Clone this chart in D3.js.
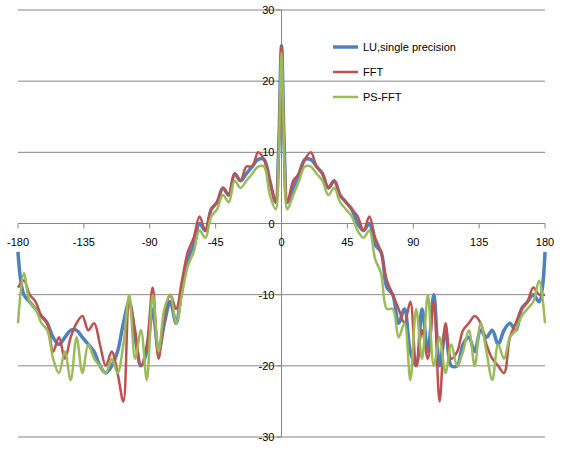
<!DOCTYPE html>
<html>
<head>
<meta charset="UTF-8" />
<script src="https://cdn.jsdelivr.net/npm/d3@7"></script>
<style>
  body { margin: 0; background: #fff; }
  text { font-family: "Liberation Sans", "DejaVu Sans", sans-serif; font-size: 11px; fill: #000; }
</style>
</head>
<body>
<script>
// angles in degrees
var angles = [-180,-176,-172,-168,-164,-160,-156,-152,-148,-144,-140,-136,-132,-128,-124,-120,-116,-112,-108,-104,-100,-96,-92,-88,-84,-80,-76,-72,-68,-64,-60,-56,-52,-48,-44,-40,-36,-32,-28,-24,-20,-16,-12,-8,-4,-2,0,2,4,8,12,16,20,24,28,32,36,40,44,48,52,56,60,64,68,72,76,80,84,88,92,96,100,104,108,112,116,120,124,128,132,136,140,144,148,152,156,160,164,168,172,176,180];

var luSingle = [-4,-10,-11,-12,-13,-14,-16,-17,-16,-15,-15,-16,-17,-18,-20,-21,-20,-18,-14,-11,-16,-20,-18,-12,-18,-14,-11,-14,-9,-5,-3,0,-1,2,3,5,4,7,6,7,8,9,9,6,3,10,25,10,3,5,7,9,9,8,7,5,6,4,3,2,0,-1,0,-3,-4,-9,-10,-14,-12,-18,-20,-12,-18,-10,-20,-15,-20,-20,-17,-16,-18,-15,-16,-15,-17,-15,-14,-15,-12,-11,-10,-11,-4];
var fft = [-9,-8,-10,-11,-13,-14,-18,-16,-19,-16,-14,-13,-15,-14,-17,-20,-18,-21,-25,-11,-15,-20,-17,-9,-19,-13,-10,-12,-8,-4,-2,1,-1,2,3,5,4,7,6,8,8,10,9,6,3,10,25,10,3,6,7,9,10,8,7,5,6,4,3,2,1,-1,1,-2,-4,-8,-10,-12,-14,-11,-20,-15,-19,-11,-25,-14,-19,-18,-15,-14,-13,-14,-17,-19,-20,-21,-16,-14,-12,-11,-9,-10,-10];
var psFft = [-14,-7,-11,-12,-14,-15,-19,-21,-18,-22,-16,-21,-17,-19,-20,-21,-19,-21,-17,-10,-19,-15,-22,-10,-18,-12,-10,-14,-10,-6,-4,-1,-2,1,2,4,3,6,5,6,7,8,8,4,2,9,24,9,2,4,6,8,8,7,6,4,5,3,2,1,-1,-2,-1,-5,-7,-12,-12,-16,-14,-22,-12,-19,-10,-20,-16,-21,-17,-20,-18,-15,-20,-14,-18,-22,-17,-19,-16,-15,-13,-12,-11,-8,-14];

var seriesNames = ["LU,single precision", "FFT", "PS-FFT"];
var seriesData = [luSingle, fft, psFft];
var seriesColors = ["#4f81bd", "#c0504d", "#9bbb59"];
var seriesWidths = [3.5, 2.5, 2.5];

var xTicks = [-180, -135, -90, -45, 0, 45, 90, 135, 180];
var yTicks = [-30, -20, -10, 0, 10, 20, 30];

var width = 562, height = 449;
var svg = d3.select("body").append("svg").attr("width", width).attr("height", height);

var x = d3.scaleLinear().domain([-180, 180]).range([18, 545]);
var y = d3.scaleLinear().domain([-30, 30]).range([437, 10]);

// gridlines
svg.selectAll(".grid").data(yTicks).enter().append("line")
  .attr("x1", x(-180)).attr("x2", x(180))
  .attr("y1", function (d) { return y(d); })
  .attr("y2", function (d) { return y(d); })
  .attr("stroke", "#868686").attr("stroke-width", 1);

// vertical axis at x=0
svg.append("line")
  .attr("x1", x(0)).attr("x2", x(0)).attr("y1", y(30)).attr("y2", y(-30))
  .attr("stroke", "#868686");
svg.selectAll(".ytick").data(yTicks).enter().append("line")
  .attr("x1", x(0) - 5).attr("x2", x(0))
  .attr("y1", function (d) { return y(d); })
  .attr("y2", function (d) { return y(d); })
  .attr("stroke", "#868686");
svg.selectAll(".ylab").data(yTicks).enter().append("text")
  .attr("x", x(0) - 7)
  .attr("y", function (d) { return y(d) + 4; })
  .attr("text-anchor", "end")
  .text(function (d) { return d; });

// x tick marks and labels on the zero line
svg.selectAll(".xtick").data(xTicks).enter().append("line")
  .attr("x1", function (d) { return x(d); })
  .attr("x2", function (d) { return x(d); })
  .attr("y1", y(0)).attr("y2", y(0) + 5)
  .attr("stroke", "#868686");
svg.selectAll(".xlab").data(xTicks).enter().append("text")
  .attr("x", function (d) { return x(d); })
  .attr("y", y(0) + 22)
  .attr("text-anchor", "middle")
  .text(function (d) { return d; });

// series
var line = d3.line()
  .x(function (d) { return x(d[0]); })
  .y(function (d) { return y(d[1]); })
  .curve(d3.curveCatmullRom);

seriesData.forEach(function (vals, i) {
  svg.append("path")
    .datum(angles.map(function (a, j) { return [a, vals[j]]; }))
    .attr("d", line)
    .attr("fill", "none")
    .attr("stroke", seriesColors[i])
    .attr("stroke-width", seriesWidths[i])
    .attr("stroke-linejoin", "round");
});

// legend
var legend = svg.selectAll(".legend").data(seriesNames).enter().append("g")
  .attr("transform", function (d, i) { return "translate(333," + (47 + i * 25) + ")"; });
legend.append("line")
  .attr("x1", 0).attr("x2", 25).attr("y1", 0).attr("y2", 0)
  .attr("stroke", function (d, i) { return seriesColors[i]; })
  .attr("stroke-width", function (d, i) { return seriesWidths[i]; });
legend.append("text")
  .attr("x", 30).attr("y", 4)
  .text(function (d) { return d; });
</script>
</body>
</html>
